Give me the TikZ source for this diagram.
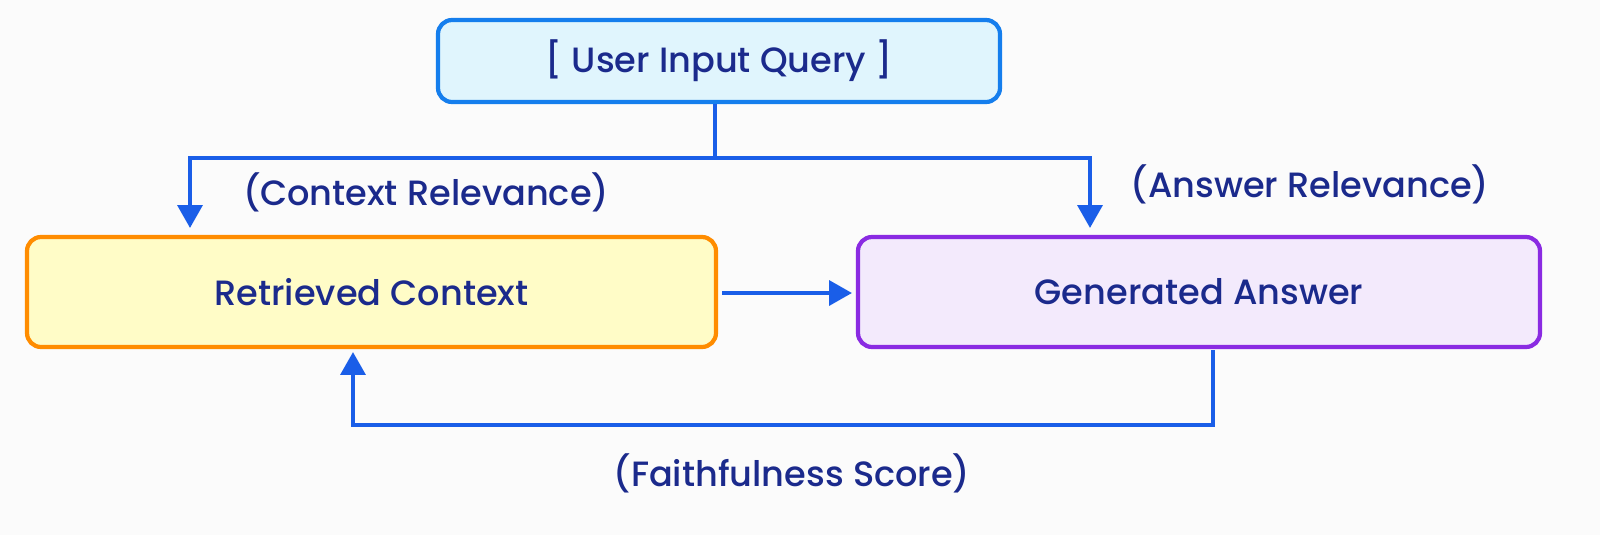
\documentclass[tikz,border=0pt]{standalone}
\usepackage{fontspec}
\setmainfont{Poppins}[UprightFont=* Medium]
\usetikzlibrary{arrows.meta}
\definecolor{txt}{HTML}{1B2A8C}
\definecolor{arr}{HTML}{1A5EE8}
\definecolor{vb}{HTML}{8A2BE2}
\begin{document}
\begin{tikzpicture}[x=0.02cm,y=-0.02cm,
  box/.style={draw,line width=2.4pt,rounded corners=8pt,inner sep=0pt,text=txt,font=\fontsize{20}{24}\selectfont},
  lab/.style={text=txt,font=\fontsize{20}{24}\selectfont},
  con/.style={draw=arr,line width=2.4pt},
  arw/.style={con,-{Triangle[length=13pt,width=14pt]}}]
\fill[white!97!gray] (0,0) rectangle (1600,535);
\useasboundingbox (0,0) rectangle (1600,535);
\node[box,draw=arr!80!cyan,fill=cyan!12,minimum width=562*0.02cm,minimum height=82*0.02cm] (q) at (719,61) {[ User Input Query ]};
\node[box,draw=orange!90!yellow,fill=yellow!22,minimum width=689*0.02cm,minimum height=110*0.02cm] (r) at (371.5,292) {Retrieved Context};
\node[box,draw=vb,fill=vb!10,minimum width=682*0.02cm,minimum height=110*0.02cm] (g) at (1199,292) {Generated Answer};
\coordinate (j) at (715,158);
\draw[con] (q.south -| j) -- (j);
\draw[arw] (j) -- (190,158) -- (190,228);
\draw[arw] (j) -- (1090,158) -- (1090,228);
\draw[arw] (722,293) -- (852,293);
\draw[arw] (1213,350) -- (1213,425) -- (353,425) -- (353,352);
\node[lab] (l1) at (426,192) {(Context Relevance)};
\node[lab] (l2) at (1310,184) {(Answer Relevance)};
\node[lab] (l3) at (792,473) {(Faithfulness Score)};
\end{tikzpicture}
\end{document}
